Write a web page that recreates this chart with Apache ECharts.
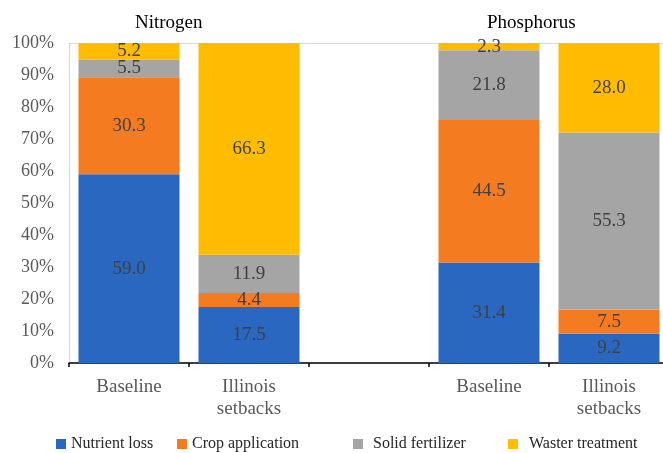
<!DOCTYPE html>
<html>
<head>
<meta charset="utf-8">
<title>Nitrogen and Phosphorus source shares</title>
<script src="https://cdn.jsdelivr.net/npm/echarts@6/dist/echarts.min.js"></script>
<style>
  html, body { margin: 0; padding: 0; background: #ffffff; overflow: hidden; }
  /* the plot runs a few pixels past the visible right edge */
  #chart { width: 669px; height: 453px; }
</style>
</head>
<body>
<div id="chart"></div>
<script>
// Scenario columns; the empty slot separates the Nitrogen and Phosphorus groups
const categories = ['Baseline', 'Illinois\nsetbacks', '', 'Baseline', 'Illinois\nsetbacks'];
const groupTitles = ['Nitrogen', 'Phosphorus'];

// Share of each source (%) per column
const nutrientLoss     = [59.0, 17.5, '-', 31.4, 9.2];
const cropApplication  = [30.3, 4.4,  '-', 44.5, 7.5];
const solidFertilizer  = [5.5,  11.9, '-', 21.8, 55.3];
const wasterTreatment  = [5.2,  66.3, '-', 2.3,  28.0];

const seriesNames = ['Nutrient loss', 'Crop application', 'Solid fertilizer', 'Waster treatment'];
const seriesData = [nutrientLoss, cropApplication, solidFertilizer, wasterTreatment];
const colors = ['#2967C1', '#F47B20', '#A5A5A5', '#FFBC00'];

const serif = '"Liberation Serif", "Times New Roman", serif';

const chart = echarts.init(document.getElementById('chart'), null, { renderer: 'canvas' });

const legendLefts = [56, 177, 353, 508];
const legendPad = [0, 0, 5, 6];

const option = {
  animation: false,
  color: colors,
  textStyle: { fontFamily: serif },
  grid: { left: 69, top: 43, right: 0, height: 320, containLabel: false },
  legend: seriesNames.map((name, i) => ({
    data: [name],
    left: legendLefts[i],
    top: 436,
    padding: 0,
    icon: 'rect',
    itemWidth: 10,
    itemHeight: 10,
    selectedMode: false,
    textStyle: {
      fontFamily: serif,
      fontSize: 16,
      color: '#262626',
      padding: [0, 0, 0, legendPad[i]]
    }
  })),
  graphic: [
    {
      type: 'text', left: 135, top: 14,
      style: { text: groupTitles[0], font: '19px ' + serif, fill: '#000000' }
    },
    {
      type: 'text', left: 487, top: 14,
      style: { text: groupTitles[1], font: '19px ' + serif, fill: '#000000' }
    }
  ],
  xAxis: [
    {
      type: 'category',
      data: categories,
      position: 'bottom',
      axisLine: { show: true, lineStyle: { color: '#000000', width: 1.5 } },
      axisTick: { show: true, length: 4, lineStyle: { color: '#000000', width: 1.5 } },
      axisLabel: {
        fontFamily: serif, fontSize: 19, color: '#595959',
        lineHeight: 22, margin: 13, interval: 0
      }
    },
    {
      type: 'category',
      data: categories,
      position: 'top',
      axisLine: { show: true, lineStyle: { color: '#D9D9D9', width: 1 } },
      axisTick: { show: false },
      axisLabel: { show: false }
    }
  ],
  yAxis: {
    type: 'value',
    min: 0,
    max: 100,
    interval: 10,
    axisLine: { show: true, lineStyle: { color: '#D9D9D9', width: 1 } },
    axisTick: { show: false },
    splitLine: { show: false },
    axisLabel: {
      formatter: '{value}%',
      fontFamily: serif, fontSize: 18, color: '#595959', margin: 15
    }
  },
  series: seriesNames.map((name, i) => ({
    name: name,
    type: 'bar',
    stack: 'share',
    xAxisIndex: 0,
    barWidth: 101,
    data: seriesData[i],
    itemStyle: { color: colors[i] },
    label: {
      show: true,
      position: 'inside',
      fontFamily: serif,
      fontSize: 19,
      color: '#404040',
      formatter: p => Number(p.value).toFixed(1)
    }
  }))
};

chart.setOption(option);
</script>
</body>
</html>
